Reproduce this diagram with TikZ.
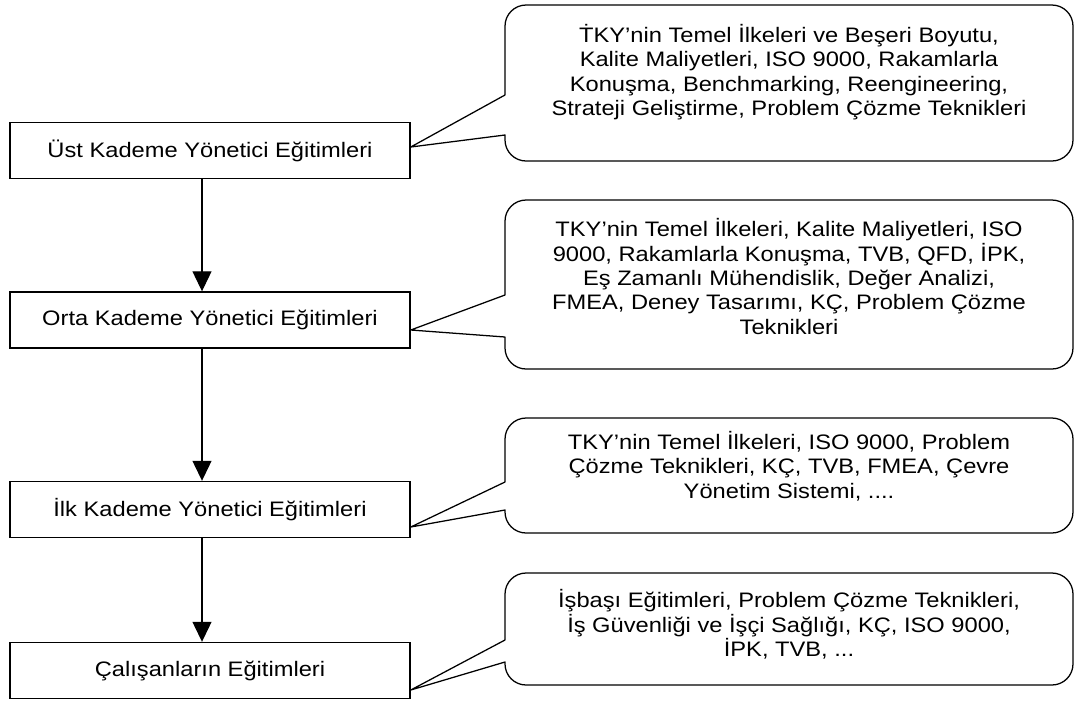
\documentclass[tikz,border=0pt]{standalone}
\usepackage{fontspec}
\setmainfont{Liberation Sans}[FakeStretch=1.13]
\usetikzlibrary{calc,arrows.meta,positioning}

\begin{document}
\begin{tikzpicture}[
  x=0.025cm, y=-0.025cm,
  level/.style={rectangle, draw, line width=1pt, minimum width=10cm, minimum height=1.4cm, inner sep=0pt},
  topics/.style={align=center, inner sep=0pt},
  bubble/.style={line width=0.9pt, line join=round},
  flow/.style={-{Triangle[width=13.5pt, length=14.2pt]}, line width=0.8pt},
  font=\fontsize{14.9}{17.3}\selectfont
]
  \useasboundingbox (0,0) rectangle (1081,700);
  % training levels
  \node[level] (ust)     at (210,150.5) {Üst Kademe Yönetici Eğitimleri};
  \node[level] (orta)    at (210,320)   {Orta Kademe Yönetici Eğitimleri};
  \node[level] (ilk)     at (210,509.5) {İlk Kademe Yönetici Eğitimleri};
  \node[level] (calisan) at (210,670.5) {Çalışanların Eğitimleri};
  % topics of each level
  \node[topics] (k1) at (789,72)    {Ṫ\kern0ptKY’nin Temel İlkeleri ve Beşeri Boyutu,\\Kalite Maliyetleri, ISO 9000, Rakamlarla\\Konuşma, Benchmarking, Reengineering,\\Strateji Geliştirme, Problem Çözme Teknikleri};
  \node[topics] (k2) at (789,276.5) {TKY’nin Temel İlkeleri, Kalite Maliyetleri, ISO\\9000, Rakamlarla Konuşma, TVB, QFD, İPK,\\Eş Zamanlı Mühendislik, Değer Analizi,\\FMEA, Deney Tasarımı, KÇ, Problem Çözme\\Teknikleri};
  \node[topics] (k3) at (789,466)   {TKY’nin Temel İlkeleri, ISO 9000, Problem\\Çözme Teknikleri, KÇ, TVB, FMEA, Çevre\\Yönetim Sistemi, ....};
  \node[topics] (k4) at (789,624.5) {İşbaşı Eğitimleri, Problem Çözme Teknikleri,\\İş Güvenliği ve İşçi Sağlığı, KÇ, ISO 9000,\\İPK, TVB, ...};
  % arrows between levels
  \draw[flow] ($(ust.south)+(-8,0)$) -- ($(orta.north)+(-8,0)$);
  \draw[flow] ($(orta.south)+(-8,0)$) -- ($(ilk.north)+(-8,0)$);
  \draw[flow] ($(ilk.south)+(-8,0)$) -- ($(calisan.north)+(-8,0)$);
  % speech bubbles
  \draw[bubble] ($(ust.east)+(0,-3.5)$) -- (505,135) [rounded corners=15pt] -- (505,161) -- (1073,161) -- (1073,5) -- (505,5) [sharp corners] -- (505,95) -- cycle;
  \draw[bubble] ($(orta.east)+(0,10)$) -- (505,337) [rounded corners=15pt] -- (505,369) -- (1073,369) -- (1073,200) -- (505,200) [sharp corners] -- (505,295) -- cycle;
  \draw[bubble] ($(ilk.east)+(0,17.5)$) -- (505,510) [rounded corners=15pt] -- (505,533) -- (1073,533) -- (1073,418) -- (505,418) [sharp corners] -- (505,482) -- cycle;
  \draw[bubble] ($(calisan.east)+(0,19.5)$) -- (505,662) [rounded corners=15pt] -- (505,685) -- (1073,685) -- (1073,573) -- (505,573) [sharp corners] -- (505,640) -- cycle;
\end{tikzpicture}
\end{document}
